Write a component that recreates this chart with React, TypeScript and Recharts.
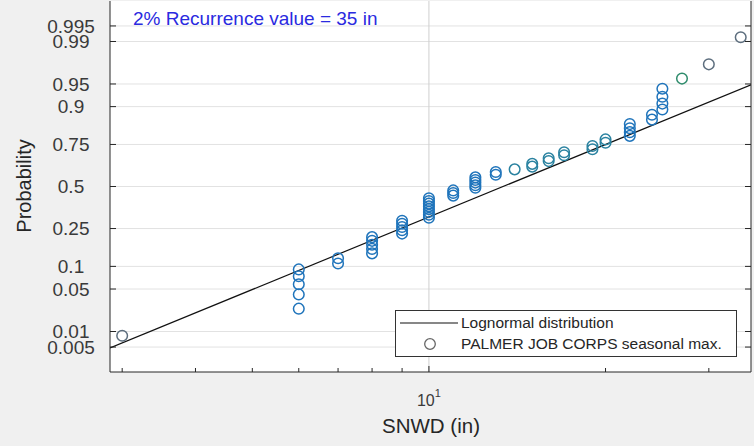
import { ComposedChart, Line, Scatter, XAxis, YAxis, ReferenceLine, CartesianGrid } from "recharts";

// seasonal max snow depth (in), sorted, with plotted probabilities
const SNWD_IN = [
  3, 6, 6, 6, 6, 6, 7, 7, 8, 8, 8, 8, 8, 9, 9, 9, 9, 9,
  10, 10, 10, 10, 10, 10, 10, 10, 11, 11, 11, 12, 12, 12, 12, 12,
  13, 13, 14, 15, 15, 16, 16, 17, 17, 19, 19, 20, 20,
  22, 22, 22, 22, 24, 24, 25, 25, 25, 25, 27, 30, 34,
];
const PROB = [
  0.0083, 0.025, 0.0417, 0.0583, 0.075, 0.0917, 0.1083, 0.125, 0.1417, 0.1583, 0.175, 0.1917,
  0.2083, 0.225, 0.2417, 0.2583, 0.275, 0.2917, 0.3083, 0.325, 0.3417, 0.3583, 0.375, 0.3917,
  0.4083, 0.425, 0.4417, 0.4583, 0.475, 0.4917, 0.5083, 0.525, 0.5417, 0.5583, 0.575, 0.5917,
  0.6083, 0.625, 0.6417, 0.6583, 0.675, 0.6917, 0.7083, 0.725, 0.7417, 0.7583, 0.775, 0.7917,
  0.8083, 0.825, 0.8417, 0.8583, 0.875, 0.8917, 0.9083, 0.925, 0.9417, 0.9583, 0.975, 0.9917,
];

// fitted lognormal line, ends at the plot edges
const FIT_X = [2.86, 35.4];
const FIT_P = [0.0048, 0.9487];

const X_DOMAIN = [2.86, 35.4];
const X_TICKS = [3, 4, 5, 6, 7, 8, 9, 10, 20, 30];
const P_LIMITS = [0.00146, 0.99854];
const P_TICKS = [0.005, 0.01, 0.05, 0.1, 0.25, 0.5, 0.75, 0.9, 0.95, 0.99, 0.995];
const P_LABELS = ["0.005", "0.01", "0.05", "0.1", "0.25", "0.5", "0.75", "0.9", "0.95", "0.99", "0.995"];

const FONT = "'Liberation Sans', Arial, Helvetica, sans-serif";
const AXIS = "#262626";
const TXT = "#3a3a3a";
// plot box edges (follow from the chart margins / axis sizes below)
const LEFT = 110, RIGHT = 751, TOP = 1, BOTTOM = 372;

// inverse normal cdf (Acklam) -- probability paper transform
function probit(p: number) {
  const a = [-39.69683028665376, 220.9460984245205, -275.9285104469687, 138.357751867269, -30.66479806614716, 2.506628277459239];
  const b = [-54.47609879822406, 161.5858368580409, -155.6989798598866, 66.80131188771972, -13.28068155288572];
  const c = [-0.007784894002430293, -0.3223964580411365, -2.400758277161838, -2.549671464908946, 4.374664141464968, 2.938163982698783];
  const d = [0.007784695709041462, 0.3224671290700398, 2.445134137142996, 3.754408661907416];
  const lo = 0.02425;
  if (p < lo) {
    const q = Math.sqrt(-2 * Math.log(p));
    return (((((c[0] * q + c[1]) * q + c[2]) * q + c[3]) * q + c[4]) * q + c[5]) / ((((d[0] * q + d[1]) * q + d[2]) * q + d[3]) * q + 1);
  }
  if (p > 1 - lo) {
    const q = Math.sqrt(-2 * Math.log(1 - p));
    return -(((((c[0] * q + c[1]) * q + c[2]) * q + c[3]) * q + c[4]) * q + c[5]) / ((((d[0] * q + d[1]) * q + d[2]) * q + d[3]) * q + 1);
  }
  const q = p - 0.5;
  const r = q * q;
  return ((((((a[0] * r + a[1]) * r + a[2]) * r + a[3]) * r + a[4]) * r + a[5]) * q) / (((((b[0] * r + b[1]) * r + b[2]) * r + b[3]) * r + b[4]) * r + 1);
}

const points = SNWD_IN.map((x, i) => ({ x, z: probit(PROB[i]), i }));
const fitLine = FIT_X.map((x, i) => ({ x, z: probit(FIT_P[i]) }));
const yDomain = P_LIMITS.map(probit);
const yTicks = P_TICKS.map(probit);

function pointColor(i: number) {
  if (i === 0 || i >= 58) return "#5d6e7e";
  if (i === 57) return "#2f8c6c";
  if (i >= 36 && i <= 46) return "#2a82a0";
  return "#1f74bb";
}

const Ring = (props: any) => {
  const { cx, cy, payload } = props;
  if (cx == null || cy == null) return null;
  return <circle cx={cx} cy={cy} r={5.3} fill="none" stroke={pointColor(payload.i)} strokeWidth={1.5} />;
};

// inward tick marks, MATLAB style
const YTick = (props: any) => {
  const { y, payload } = props;
  let k = 0;
  yTicks.forEach((t, j) => {
    if (Math.abs(t - payload.value) < Math.abs(yTicks[k] - payload.value)) k = j;
  });
  return (
    <g>
      <line x1={LEFT} x2={LEFT + 6} y1={y} y2={y} stroke={AXIS} />
      <text x={71} y={y} dy="0.36em" textAnchor="middle" fontSize={19} fill={TXT} fontFamily={FONT}>
        {P_LABELS[k]}
      </text>
    </g>
  );
};

const YTickRight = (props: any) => <line x1={RIGHT - 6} x2={RIGHT} y1={props.y} y2={props.y} stroke={AXIS} />;

const XTick = (props: any) => {
  const { x, payload } = props;
  const major = payload.value === 10;
  return (
    <g>
      <line x1={x} x2={x} y1={BOTTOM} y2={BOTTOM - (major ? 6 : 4)} stroke={AXIS} />
      {major && (
        <text x={x} y={406} textAnchor="middle" fontSize={16} fill={TXT} fontFamily={FONT}>
          <tspan>10</tspan>
          <tspan dy={-9} fontSize={11}>1</tspan>
        </text>
      )}
    </g>
  );
};

const XTickTop = (props: any) => {
  const major = props.payload.value === 10;
  return <line x1={props.x} x2={props.x} y1={TOP} y2={TOP + (major ? 6 : 4)} stroke={AXIS} />;
};

export default function App() {
  return (
    <div style={{ position: "absolute", left: 0, top: 0, width: 754, height: 446, background: "#f0f0f0", fontFamily: FONT }}>
      <ComposedChart width={754} height={446} margin={{ top: TOP, right: 0, bottom: 0, left: 0 }}>
        <CartesianGrid fill="#ffffff" horizontal={false} vertical={false} xAxisId="b" yAxisId="l" />
        <XAxis xAxisId="b" dataKey="x" type="number" scale="log" domain={X_DOMAIN} ticks={X_TICKS} interval={0}
          allowDataOverflow orientation="bottom" height={446 - BOTTOM} tickLine={false} tick={<XTick />} stroke={AXIS} />
        <XAxis xAxisId="t" dataKey="x" type="number" scale="log" domain={X_DOMAIN} ticks={X_TICKS} interval={0}
          allowDataOverflow orientation="top" height={0} tickLine={false} tick={<XTickTop />} stroke={AXIS} />
        <YAxis yAxisId="l" dataKey="z" type="number" domain={yDomain} ticks={yTicks} interval={0}
          allowDataOverflow width={LEFT} tickLine={false} tick={<YTick />} stroke={AXIS} />
        <YAxis yAxisId="r" dataKey="z" type="number" domain={yDomain} ticks={yTicks} interval={0}
          allowDataOverflow orientation="right" width={754 - RIGHT} tickLine={false} tick={<YTickRight />} stroke={AXIS} />
        {yTicks.map((t) => (
          <ReferenceLine key={t} xAxisId="b" yAxisId="l" y={t} stroke="#e2e2e2" strokeWidth={1} />
        ))}
        <ReferenceLine xAxisId="b" yAxisId="l" x={10} stroke="#cfcfcf" strokeWidth={1} />
        <Line xAxisId="b" yAxisId="l" data={fitLine} dataKey="z" type="linear" stroke="#111" strokeWidth={1.2}
          dot={false} isAnimationActive={false} />
        <Scatter xAxisId="b" yAxisId="l" data={points} dataKey="z" shape={<Ring />} isAnimationActive={false} />
      </ComposedChart>
      <svg width={754} height={446} style={{ position: "absolute", left: 0, top: 0, pointerEvents: "none" }} fontFamily={FONT}>
        <text x={133} y={25} fontSize={19} fill="#2a2ae0">2% Recurrence value = 35 in</text>
        <text transform="translate(31,186) rotate(-90)" textAnchor="middle" fontSize={20} fill={AXIS}>Probability</text>
        <text x={431} y={433} textAnchor="middle" fontSize={20.5} fill={AXIS}>SNWD (in)</text>
        <rect x={395.5} y={310.5} width={341} height={46} fill="#fff" stroke="#333" strokeWidth={1} />
        <line x1={400} x2={458} y1={323} y2={323} stroke="#111" strokeWidth={1.2} />
        <text x={461} y={328} fontSize={15.5} fill={AXIS}>Lognormal distribution</text>
        <circle cx={430} cy={344} r={5.3} fill="none" stroke="#666" strokeWidth={1.3} />
        <text x={461} y={349} fontSize={15.5} fill={AXIS}>PALMER JOB CORPS seasonal max.</text>
      </svg>
    </div>
  );
}
